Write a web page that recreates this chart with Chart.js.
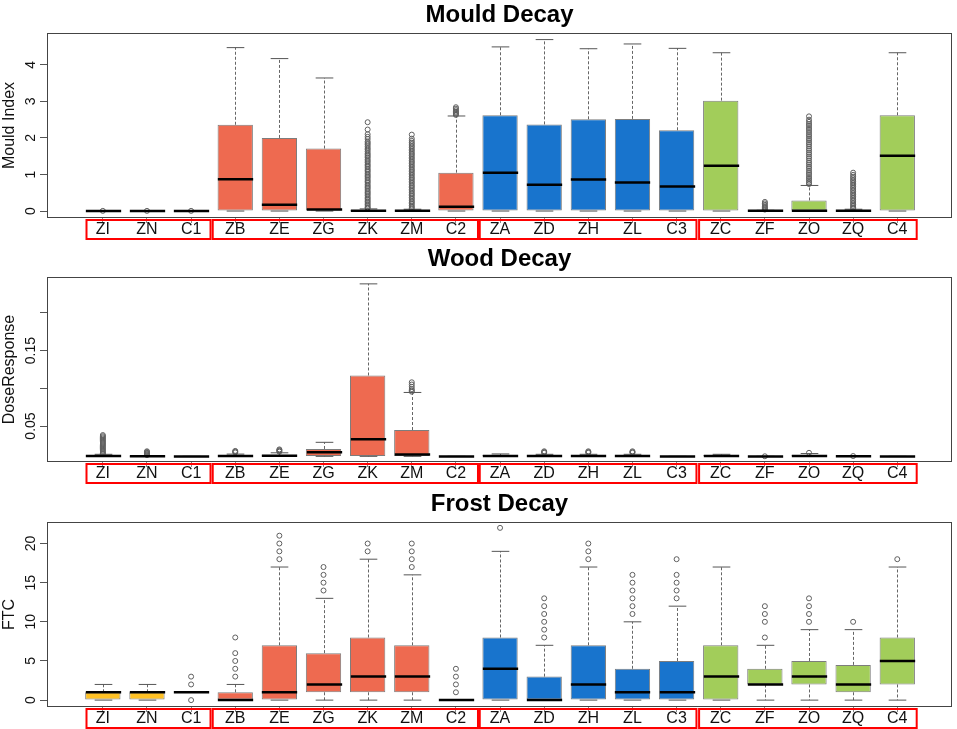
<!DOCTYPE html>
<html>
<head>
<meta charset="utf-8">
<script src="https://cdn.jsdelivr.net/npm/chart.js@4.4.1/dist/chart.umd.min.js"></script>
<style>
body { margin: 0; background: #fff; }
#wrap { position: relative; width: 957px; height: 729px; }
canvas { position: absolute; left: 0; }
</style>
</head>
<body>
<div id="wrap">
<canvas id="mould" width="957" height="240" style="top:0px"></canvas>
<canvas id="wood" width="957" height="240" style="top:244px"></canvas>
<canvas id="frost" width="957" height="240" style="top:489px"></canvas>
</div>
<script>
var FONT = "'Liberation Sans', Arial, Helvetica, sans-serif";

var categories = ['ZI', 'ZN', 'C1', 'ZB', 'ZE', 'ZG', 'ZK', 'ZM', 'C2', 'ZA', 'ZD', 'ZH', 'ZL', 'C3', 'ZC', 'ZF', 'ZO', 'ZQ', 'C4'];
// groups of categories (first index, last index) boxed in red under the axis
var groups = [[0, 2], [3, 8], [9, 13], [14, 18]];
var groupEdges = [[0.63, 3.44], [3.49, 9.5], [9.54, 14.45], [14.51, 19.44]];
var groupColors = ['#FFC125', '#EE6A50', '#1874CD', '#A2CD5A'];

// Mould Decay
var mouldLo  = [0, 0, 0, 0, 0, 0, 0, 0, 0, 0, 0, 0, 0, 0, 0, 0, 0, 0, 0];
var mouldQ1  = [0, 0, 0, 0, 0, 0, 0, 0, 0, 0, 0, 0, 0, 0, 0, 0, 0, 0, 0];
var mouldMed = [0, 0, 0, 0.87, 0.17, 0.04, 0.01, 0.005, 0.12, 1.05, 0.72, 0.86, 0.78, 0.67, 1.24, 0.005, 0.01, 0.005, 1.51];
var mouldQ3  = [0, 0, 0, 2.36, 2.0, 1.71, 0.03, 0.02, 1.05, 2.62, 2.37, 2.51, 2.52, 2.21, 3.02, 0.01, 0.29, 0.02, 2.62];
var mouldHi  = [0, 0, 0, 4.47, 4.17, 3.64, 0.06, 0.05, 2.6, 4.49, 4.69, 4.44, 4.57, 4.45, 4.33, 0.02, 0.7, 0.05, 4.33];
var mouldOut = [
  [0.005], [0.005], [0.005], [], [], [],
  [2.43, 2.23, 2.1, 2.03, 1.97, 1.9, 1.86, 1.82, 1.77, 1.72, 1.68, 1.63, 1.58, 1.54, 1.5, 1.46, 1.41, 1.37, 1.33, 1.28, 1.24, 1.2, 1.15, 1.11, 1.07, 1.02, 0.98, 0.94, 0.9, 0.85, 0.81, 0.77, 0.72, 0.68, 0.64, 0.6, 0.55, 0.51, 0.47, 0.43, 0.38, 0.34, 0.3, 0.26, 0.22, 0.18, 0.14, 0.1, 0.08],
  [2.09, 1.98, 1.92, 1.87, 1.83, 1.78, 1.74, 1.69, 1.65, 1.6, 1.56, 1.52, 1.47, 1.43, 1.38, 1.34, 1.3, 1.25, 1.21, 1.16, 1.12, 1.08, 1.03, 0.99, 0.94, 0.9, 0.86, 0.81, 0.77, 0.72, 0.68, 0.64, 0.59, 0.55, 0.5, 0.46, 0.42, 0.37, 0.33, 0.28, 0.24, 0.2, 0.15, 0.11, 0.07],
  [2.63, 2.66, 2.69, 2.72, 2.76, 2.8, 2.84],
  [], [], [], [], [], [],
  [0.04, 0.07, 0.1, 0.13, 0.17, 0.21, 0.25],
  [2.59, 2.5, 2.44, 2.38, 2.33, 2.27, 2.22, 2.16, 2.1, 2.05, 1.99, 1.94, 1.88, 1.83, 1.77, 1.71, 1.66, 1.6, 1.55, 1.49, 1.44, 1.38, 1.32, 1.27, 1.21, 1.16, 1.1, 1.04, 0.99, 0.93, 0.88, 0.83, 0.78, 0.74],
  [1.05, 0.99, 0.94, 0.9, 0.85, 0.81, 0.76, 0.72, 0.67, 0.63, 0.58, 0.54, 0.49, 0.45, 0.4, 0.36, 0.31, 0.27, 0.22, 0.18, 0.14, 0.1, 0.07],
  []
];
var mouldTicks = [0, 1, 2, 3, 4];
var mouldTickLabels = ['0', '1', '2', '3', '4'];

// Wood Decay
var woodLo  = [0.0097, 0.0096, 0.0097, 0.0098, 0.0098, 0.0098, 0.0098, 0.0098, 0.0097, 0.0098, 0.0098, 0.0098, 0.0098, 0.0097, 0.0098, 0.0097, 0.0098, 0.0097, 0.0097];
var woodQ1  = [0.0098, 0.0097, 0.0097, 0.0099, 0.0099, 0.0103, 0.0103, 0.0103, 0.0097, 0.0099, 0.0098, 0.0098, 0.0098, 0.0097, 0.0099, 0.0097, 0.0099, 0.0097, 0.0097];
var woodMed = [0.0101, 0.0099, 0.0097, 0.0101, 0.0106, 0.0152, 0.0324, 0.0121, 0.0097, 0.0104, 0.0101, 0.0101, 0.0101, 0.0097, 0.0102, 0.0097, 0.0102, 0.0098, 0.0097];
var woodQ3  = [0.0106, 0.0101, 0.0097, 0.011, 0.0118, 0.0196, 0.117, 0.0447, 0.0097, 0.0115, 0.0108, 0.0108, 0.0108, 0.0097, 0.0112, 0.0097, 0.0113, 0.0099, 0.0097];
var woodHi  = [0.0125, 0.0108, 0.0097, 0.0128, 0.0145, 0.0284, 0.2385, 0.0945, 0.0097, 0.013, 0.0125, 0.0125, 0.0125, 0.0097, 0.0125, 0.0097, 0.0135, 0.0101, 0.0097];
var woodOut = [
  [0.038, 0.0365, 0.035, 0.0335, 0.032, 0.0305, 0.029, 0.0275, 0.026, 0.0245, 0.023, 0.0215, 0.02, 0.0185, 0.017, 0.0155, 0.014, 0.013],
  [0.0165, 0.0155, 0.0145, 0.0135, 0.0125, 0.0115],
  [],
  [0.017, 0.016, 0.015],
  [0.019, 0.018, 0.017, 0.016],
  [], [],
  [0.108, 0.105, 0.102, 0.099, 0.097, 0.0955],
  [], [],
  [0.0165, 0.0155, 0.0145],
  [0.0165, 0.0155, 0.0145],
  [0.0165, 0.0155, 0.0145],
  [], [],
  [0.0099],
  [0.0145],
  [0.0102],
  []
];
var woodTicks = [0.05, 0.1, 0.15, 0.2];
var woodTickLabels = ['0.05', '', '0.15', ''];

// Frost Decay
var frostLo  = [0, 0, 1, 0, 0, 0, 0, 0, 0, 0, 0, 0, 0, 0, 0, 0, 0, 0, 0];
var frostQ1  = [0, 0, 1, 0, 0, 1, 1, 1, 0, 0, 0, 0, 0, 0, 0, 2, 2, 1, 2];
var frostMed = [1, 1, 1, 0, 1, 2, 3, 3, 0, 4, 0, 2, 1, 1, 3, 2, 3, 2, 5];
var frostQ3  = [1, 1, 1, 1, 7, 6, 8, 7, 0, 8, 3, 7, 4, 5, 7, 4, 5, 4.5, 8];
var frostHi  = [2, 2, 1, 2, 17, 13, 18, 16, 0, 19, 7, 17, 10, 12, 17, 7, 9, 9, 17];
var frostOut = [
  [], [], [0, 2, 3], [3, 4, 5, 6, 8], [18, 19, 20, 21], [14, 15, 16, 17], [19, 20], [17, 18, 19, 20], [1, 2, 3, 4],
  [22], [8, 9, 10, 11, 12, 13], [18, 19, 20], [11, 12, 13, 14, 15, 16], [13, 14, 15, 16, 18],
  [], [8, 10, 11, 12], [10, 11, 12, 13], [10], [18]
];
var frostTicks = [0, 5, 10, 15, 20];
var frostTickLabels = ['0', '5', '10', '15', '20'];

function colorOf(i) {
  for (var g = 0; g < groups.length; g++) {
    if (i >= groups[g][0] && i <= groups[g][1]) return groupColors[g];
  }
  return '#ccc';
}

function seg(ctx, x1, y1, x2, y2) {
  ctx.beginPath();
  ctx.moveTo(x1, y1);
  ctx.lineTo(x2, y2);
  ctx.stroke();
}

function makeChart(id, cfg) {
  var boxes = categories.map(function(c, i) {
    return { x: i + 1, y: [cfg.q1[i], cfg.q3[i]] };
  });
  var points = [];
  cfg.out.forEach(function(list, i) {
    list.forEach(function(v) { points.push({ x: i + 1, y: v }); });
  });

  // whiskers, caps and medians
  var whiskers = {
    id: 'whiskers',
    afterDatasetsDraw: function(chart) {
      var ctx = chart.ctx, xs = chart.scales.x, ys = chart.scales.y;
      var half = xs.getPixelForValue(1.4) - xs.getPixelForValue(1);
      var cap = half / 2;
      ctx.save();
      categories.forEach(function(c, i) {
        var cx = Math.round(xs.getPixelForValue(i + 1)) + 0.5;
        var ylo = ys.getPixelForValue(cfg.lo[i]);
        var yq1 = ys.getPixelForValue(cfg.q1[i]);
        var yq3 = ys.getPixelForValue(cfg.q3[i]);
        var yhi = ys.getPixelForValue(cfg.hi[i]);
        var ymed = ys.getPixelForValue(cfg.med[i]);
        ctx.lineWidth = 1;
        ctx.strokeStyle = '#666';
        ctx.setLineDash([3, 2]);
        if (yhi < yq3) seg(ctx, cx, yq3, cx, yhi);
        if (ylo > yq1) seg(ctx, cx, yq1, cx, ylo);
        ctx.setLineDash([]);
        ctx.strokeStyle = '#555';
        seg(ctx, cx - cap, yhi, cx + cap, yhi);
        seg(ctx, cx - cap, ylo, cx + cap, ylo);
        ctx.lineWidth = 2.5;
        ctx.strokeStyle = '#000';
        seg(ctx, cx - half, ymed, cx + half, ymed);
      });
      ctx.restore();
    }
  };

  // plot frame, rotated y tick labels, red group boxes
  var frame = {
    id: 'frame',
    afterDraw: function(chart) {
      var ctx = chart.ctx, a = chart.chartArea, xs = chart.scales.x, ys = chart.scales.y;
      ctx.save();
      ctx.lineWidth = 1;
      ctx.strokeStyle = '#444';
      ctx.strokeRect(a.left + 0.5, a.top + 0.5, a.right - a.left - 1, a.bottom - a.top - 1);

      ctx.fillStyle = '#111';
      ctx.font = '14px ' + FONT;
      ctx.textAlign = 'center';
      ctx.textBaseline = 'middle';
      cfg.ticks.forEach(function(v, i) {
        ctx.save();
        ctx.translate(ys.left + 31, ys.getPixelForValue(v));
        ctx.rotate(-Math.PI / 2);
        ctx.fillText(cfg.tickLabels[i], 0, 0);
        ctx.restore();
      });

      ctx.lineWidth = 2;
      ctx.strokeStyle = '#ff0000';
      groupEdges.forEach(function(e) {
        var x1 = xs.getPixelForValue(e[0]);
        var x2 = xs.getPixelForValue(e[1]);
        ctx.strokeRect(x1, a.bottom + 2, x2 - x1, chart.height - a.bottom - 3);
      });
      ctx.restore();
    }
  };

  return new Chart(document.getElementById(id), {
    type: 'bar',
    data: {
      datasets: [
        {
          type: 'scatter',
          data: points,
          order: 0,
          pointStyle: 'circle',
          pointRadius: 2.5,
          pointBorderWidth: 1,
          pointBorderColor: '#5e5e5e',
          pointBackgroundColor: 'rgba(0,0,0,0)'
        },
        {
          type: 'bar',
          data: boxes,
          order: 1,
          backgroundColor: categories.map(function(c, i) { return colorOf(i); }),
          borderColor: '#7d7d7d',
          borderWidth: 1,
          borderSkipped: false,
          categoryPercentage: 1,
          barPercentage: 0.8
        }
      ]
    },
    options: {
      responsive: false,
      animation: false,
      events: [],
      layout: { padding: { left: 0, right: 2, top: 0, bottom: 0 } },
      plugins: {
        legend: { display: false },
        tooltip: { enabled: false },
        title: {
          display: true,
          text: cfg.title,
          fullSize: false,
          color: '#000',
          font: { family: FONT, size: 24, weight: 'bold' },
          padding: { top: 1, bottom: 3.2 }
        }
      },
      scales: {
        x: {
          type: 'linear',
          min: -0.265,
          max: 20.24,
          offset: false,
          afterBuildTicks: function(s) {
            s.ticks = categories.map(function(c, i) { return { value: i + 1 }; });
          },
          afterFit: function(s) { s.height = 22; },
          ticks: {
            autoSkip: false,
            maxRotation: 0,
            padding: -3,
            color: '#111',
            font: { family: FONT, size: 16 },
            callback: function(v, i) { return categories[i]; }
          },
          grid: { offset: false, drawOnChartArea: false, drawTicks: true, tickLength: 5, color: '#888' },
          border: { display: false }
        },
        y: {
          type: 'linear',
          min: cfg.min,
          max: cfg.max,
          afterBuildTicks: function(s) {
            s.ticks = cfg.ticks.map(function(v) { return { value: v }; });
          },
          afterFit: function(s) { s.width = 47; },
          ticks: { display: false },
          grid: { drawOnChartArea: false, drawTicks: true, tickLength: 7, color: '#555' },
          border: { display: false },
          title: {
            display: true,
            text: cfg.yTitle,
            color: '#111',
            font: { family: FONT, size: 16 },
            padding: 0
          }
        }
      }
    },
    plugins: [whiskers, frame]
  });
}

makeChart('mould', {
  title: 'Mould Decay', yTitle: 'Mould Index', min: -0.19, max: 4.87,
  ticks: mouldTicks, tickLabels: mouldTickLabels,
  lo: mouldLo, q1: mouldQ1, med: mouldMed, q3: mouldQ3, hi: mouldHi, out: mouldOut
});
makeChart('wood', {
  title: 'Wood Decay', yTitle: 'DoseResponse', min: 0.0023, max: 0.2476,
  ticks: woodTicks, tickLabels: woodTickLabels,
  lo: woodLo, q1: woodQ1, med: woodMed, q3: woodQ3, hi: woodHi, out: woodOut
});
makeChart('frost', {
  title: 'Frost Decay', yTitle: 'FTC', min: -0.88, max: 22.75,
  ticks: frostTicks, tickLabels: frostTickLabels,
  lo: frostLo, q1: frostQ1, med: frostMed, q3: frostQ3, hi: frostHi, out: frostOut
});
</script>
</body>
</html>
